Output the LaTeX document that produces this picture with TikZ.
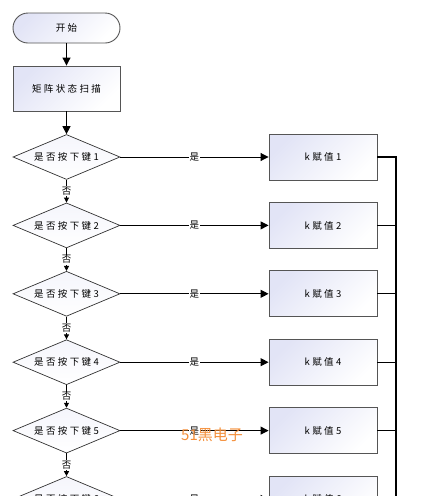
\documentclass[tikz,border=0pt]{standalone}
\usepackage{fontspec}
\setmainfont{Noto Sans CJK SC}
\newfontfamily\spacedcjk[LetterSpace=25]{Noto Sans CJK SC}
\usetikzlibrary{shapes.geometric,arrows.meta}
\definecolor{nfill}{RGB}{226,228,246}
\definecolor{nline}{RGB}{85,85,85}
\definecolor{wmark}{RGB}{244,142,56}
\begin{document}
\begin{tikzpicture}[x=1pt,y=-1pt,
  base/.style={draw=nline, line width=0.9pt, top color=nfill, bottom color=white, shading angle=45,
    font=\spacedcjk\fontsize{9.5}{10}\selectfont, inner sep=0pt},
  term/.style={base, rectangle, rounded corners=15pt, minimum width=107pt, minimum height=30pt},
  proc/.style={base, rectangle, minimum width=107pt, minimum height=45pt},
  asgn/.style={base, rectangle, minimum width=108pt, minimum height=46pt},
  dec/.style={base, diamond, aspect=2.38, minimum width=107pt, minimum height=45pt,
    draw=black!80, line width=0.7pt, top color=nfill!35, bottom color=white},
  arr/.style={-{Triangle[length=8pt,width=8pt]}, line width=1pt, black},
  sarr/.style={-{Triangle[length=5pt,width=5pt]}, line width=0.9pt, black},
  lab/.style={fill=white, inner sep=0.8pt, font=\fontsize{9.5}{10}\selectfont, text=black},
  bus/.style={line width=1.2pt, black}
]
\useasboundingbox (0,0) rectangle (431,496);
\clip (0,0) rectangle (431,496);
\node[term] (start) at (66.5,28) {开始};
\node[proc] (scan) at (66.5,88.5) {矩阵状态扫描};
\foreach \i in {1,...,6}{
  \pgfmathsetmacro{\cy}{157+68.4*(\i-1)}
  \node[dec] (d\i) at (66.5,\cy) {是否按下键\i};
  \node[asgn] (b\i) at (323,\cy) {k赋值\i};
  \draw[arr] (d\i.east) -- node[lab]{是} (b\i.west);
}
\draw[arr] (start) -- (scan);
\draw[arr] (scan) -- (d1);
\foreach \i/\j in {1/2,2/3,3/4,4/5,5/6}{
  \draw[sarr] (d\i.south) -- node[lab]{否} (d\j.north);
}
\coordinate (bt) at (396,157);
\coordinate (bb) at (396,520);
\draw[bus] (b1.east) -- (bt) -- (bb);
\foreach \i in {2,...,6}{
  \draw[bus] (b\i.east) -- (b\i.east -| bt);
}
\node[text=wmark, font=\fontsize{15}{15}\selectfont, inner sep=0pt] (wm) at (212,435) {51黑电子};
\end{tikzpicture}
\end{document}
